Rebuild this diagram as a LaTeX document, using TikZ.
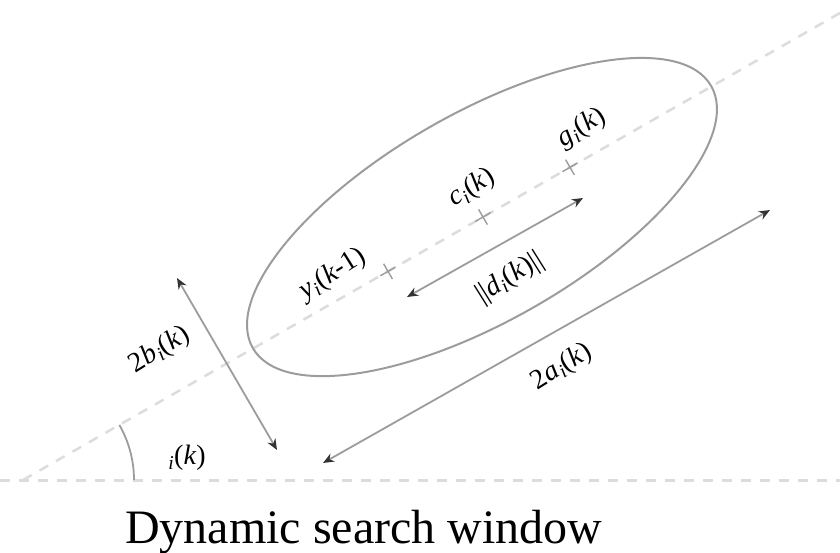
\documentclass[tikz,border=0pt]{standalone}
\usepackage{fontspec}
\setmainfont{Liberation Serif}
\usetikzlibrary{arrows.meta,shapes.misc}
\definecolor{dashgray}{HTML}{DCDCDC}
\definecolor{linegray}{HTML}{9C9C9C}
\definecolor{headgray}{HTML}{333333}
\newcommand{\itl}[1]{\textit{#1}}
\begin{document}
\begin{tikzpicture}[x=1pt,y=1pt,
  guide/.style={draw=dashgray,line width=3pt,dash pattern=on 10pt off 9pt},
  dimarrow/.style={draw=linegray,line width=1.8pt,
    {Stealth[length=11pt,width=9pt,color=headgray]}-{Stealth[length=11pt,width=9pt,color=headgray]}},
  marker/.style={draw=linegray,line width=1.4pt,cross out,minimum size=11pt,inner sep=0pt,rotate=75},
  lbl/.style={font=\fontsize{28}{32}\selectfont,inner sep=0pt,rotate=32},
  window/.style={draw=linegray,line width=2pt}]
\useasboundingbox (0,0) rectangle (840,552);
% guide lines
\coordinate (hl) at (0,72);
\coordinate (hr) at (840,72);
\coordinate (O) at (23,72);
\coordinate (dend) at (840,539);
\draw[guide] (hl) -- (hr);
\draw[guide,line width=2.5pt] (O) -- (dend);
% angle arc
\draw[linegray,line width=1.8pt] ([shift={(0:111)}]O) arc[start angle=0,end angle=29.75,radius=111];
% ellipse
\coordinate (C) at (482,335);
\draw[window,rotate around={29.75:(C)}] (C) ellipse[x radius=264,y radius=104];
% markers
\node[marker] (ym) at (388,280.6) {};
\node[marker] (cm) at (483,335) {};
\node[marker] (gm) at (570,384.7) {};
% dimension arrows
\coordinate (d1) at (407,255);
\coordinate (d2) at (583,354);
\coordinate (a1) at (323,89);
\coordinate (a2) at (770,342);
\coordinate (b1) at (177,274);
\coordinate (b2) at (277,102);
\draw[dimarrow] (d1) -- (d2);
\draw[dimarrow] (a1) -- (a2);
\draw[dimarrow] (b1) -- (b2);
% labels
\node[lbl] (ly) at (333,278) {\itl{y}\textsubscript{\itl{i}}(\itl{k}-1)};
\node[lbl] (lc) at (472,364) {\itl{c}\textsubscript{\itl{i}}(\itl{k})};
\node[lbl] (lg) at (582,424) {\itl{g}\textsubscript{\itl{i}}(\itl{k})};
\node[lbl] (ld) at (510,274) {||\itl{d}\textsubscript{\itl{i}}(\itl{k})||};
\node[lbl] (lb) at (160,202) {2\itl{b}\textsubscript{\itl{i}}(\itl{k})};
\node[lbl] (la) at (562,185) {2\itl{a}\textsubscript{\itl{i}}(\itl{k})};
\node[lbl,rotate=-32] (lt) at (187,94) {\textsubscript{\itl{i}}(\itl{k})};
% title
\node[font=\fontsize{48}{52}\selectfont,anchor=base west,inner sep=0pt] (title) at (125,9) {Dynamic search window};
\end{tikzpicture}
\end{document}
